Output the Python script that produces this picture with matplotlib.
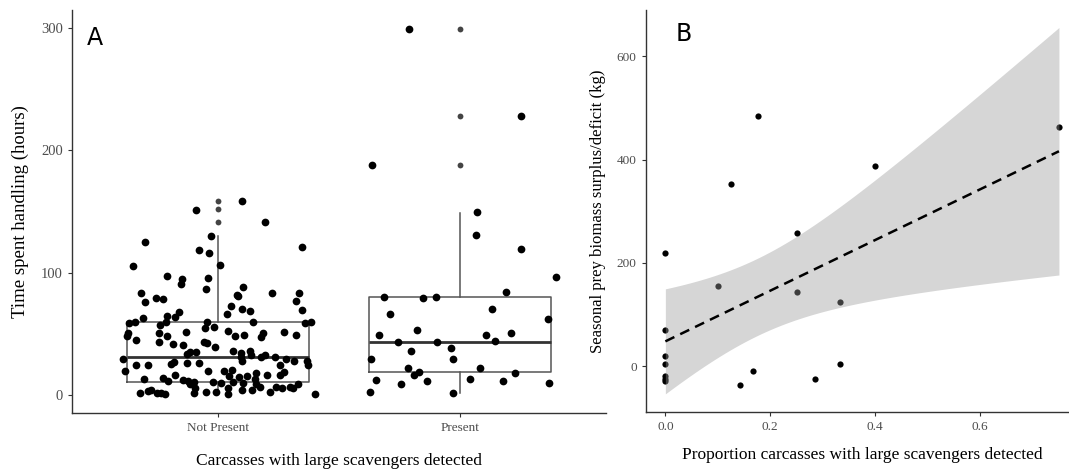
import numpy as np
import matplotlib
matplotlib.use("Agg")
import matplotlib.pyplot as plt

plt.rcParams['font.family'] = ['Liberation Serif', 'DejaVu Serif']

# Panel A: jittered points (offset from category centre, hours)
np_offset = [-0.088, 0.102, 0.196, -0.299, -0.028, -0.075, -0.034, 0.349, -0.350, 0.011,
             -0.207, -0.149, -0.151, -0.038, -0.047, 0.104, 0.078, 0.085, 0.222, 0.337,
             -0.316, -0.255, -0.224, -0.298, 0.056, 0.324, 0.349, 0.102, 0.133, 0.037,
             -0.160, -0.176, -0.209, -0.306, -0.365, -0.342, -0.239, -0.213, -0.045, -0.051,
             -0.014, 0.144, 0.359, 0.384, 0.044, 0.070, 0.107, 0.186, 0.177, 0.272,
             0.322, -0.373, -0.369, -0.240, -0.210, -0.130, -0.337, -0.241, -0.185, -0.144,
             -0.058, -0.042, -0.012, -0.114, -0.089, -0.128, 0.062, 0.095, 0.132, 0.139,
             0.095, 0.100, 0.178, 0.196, 0.236, 0.281, 0.314, 0.370, 0.373, -0.390,
             -0.335, -0.289, -0.193, -0.178, -0.126, -0.078, -0.382, -0.303, -0.224, -0.206,
             -0.176, -0.141, -0.123, -0.112, -0.096, -0.095, -0.041, -0.018, 0.014, 0.027,
             0.059, 0.048, 0.063, 0.089, 0.104, 0.122, 0.158, 0.154, 0.203, 0.256,
             0.272, 0.256, 0.332, 0.310, 0.296, 0.267, 0.242, 0.215, 0.174, 0.156,
             0.143, 0.102, 0.041, 0.044, -0.005, -0.047, -0.096, -0.217, -0.233, -0.248,
             -0.273, -0.287, -0.320, 0.399]
np_hours = [151.6, 158.5, 141.0, 125.3, 130.3, 118.5, 115.7, 121.2, 105.6, 105.9,
            97.1, 94.7, 90.6, 95.8, 86.7, 88.1, 82.0, 80.4, 83.2, 83.2,
            83.2, 79.3, 78.2, 75.5, 72.2, 76.6, 69.2, 70.3, 68.9, 66.2,
            67.3, 64.0, 64.5, 62.6, 58.5, 59.3, 56.9, 59.8, 59.3, 54.4,
            55.5, 59.6, 58.5, 59.3, 51.9, 48.3, 48.9, 50.8, 47.3, 51.6,
            48.7, 48.3, 50.5, 50.8, 48.3, 51.6, 44.5, 42.9, 41.3, 40.7,
            43.1, 42.1, 39.0, 34.9, 35.2, 33.5, 35.8, 34.1, 36.0, 32.7,
            30.6, 27.5, 31.1, 32.2, 31.1, 29.4, 27.3, 27.5, 24.2, 29.2,
            24.0, 24.0, 25.1, 26.5, 25.9, 26.1, 19.3, 12.7, 13.6, 10.8,
            16.3, 11.9, 11.3, 8.4, 10.5, 5.6, 19.3, 10.3, 9.2, 19.6,
            20.1, 15.2, 10.0, 14.6, 9.2, 15.0, 17.4, 12.7, 16.0, 16.3,
            18.2, 24.5, 8.9, 5.6, 6.2, 5.1, 5.9, 1.8, 6.4, 8.4,
            3.7, 3.7, 0.4, 5.6, 2.3, 2.3, 1.2, 0.2, 1.0, 1.2,
            3.7, 3.1, 1.2, 0.2]

pr_offset = [0.069, 0.065, 0.251, 0.392, -0.313, -0.154, -0.102, 0.186, -0.288, 0.129,
             0.362, -0.337, -0.180, 0.104, 0.207, -0.257, -0.096, 0.144, -0.037, -0.203,
             -0.370, -0.029, -0.214, 0.081, -0.172, -0.193, 0.224, -0.346, -0.139, 0.040,
             0.176, 0.366, -0.246, -0.373, -0.029, -0.363, -0.213, 0.250]
pr_hours = [149.2, 130.8, 119.3, 96.0, 79.6, 79.3, 79.9, 83.7, 65.9, 70.0,
            62.3, 48.9, 52.8, 48.9, 50.8, 43.2, 42.9, 44.0, 38.5, 35.5,
            29.4, 29.2, 21.5, 21.5, 18.7, 16.0, 17.9, 11.7, 11.4, 12.7,
            11.1, 9.7, 8.6, 2.3, 1.0, 188.1, 299.0, 227.8]

# Boxplot summaries
categories = ["Not Present", "Present"]
box_q1 = [10.0, 18.2]
box_med = [30.8, 43.4]
box_q3 = [59.3, 79.6]
box_lo = [0.2, 1.0]
box_hi = [130.0, 148.6]
box_out = [[141.0, 152.0, 158.3], [188.0, 227.8, 299.0]]

# Panel B
prop = [0.0, 0.0, 0.0, 0.0, 0.0, 0.0, 0.0, 0.1, 0.125, 0.176,
        0.143, 0.167, 0.25, 0.25, 0.286, 0.333, 0.333, 0.4, 0.75]
biomass = [219.4, 69.9, 19.4, 3.9, -20.0, -25.6, -29.7, 155.3, 353.4, 484.8,
           -36.2, -10.4, 257.6, 144.3, -25.2, 123.6, 3.2, 387.1, 462.8]

fig = plt.figure(figsize=(10.69, 4.72), dpi=100)
axA = fig.add_axes([0.0674, 0.125, 0.4995, 0.854])
axB = fig.add_axes([0.604, 0.127, 0.405, 0.852])

# ---- panel A
for i in range(2):
    pos = i + 1
    st = dict(med=box_med[i], q1=box_q1[i], q3=box_q3[i],
              whislo=box_lo[i], whishi=box_hi[i], fliers=box_out[i])
    axA.bxp([st], positions=[pos], widths=0.75, showcaps=False,
            boxprops=dict(color='#555555', lw=1.1),
            whiskerprops=dict(color='#555555', lw=1.1),
            medianprops=dict(color='#333333', lw=2.0),
            flierprops=dict(marker='o', markersize=4.2, markerfacecolor='#444444',
                            markeredgecolor='none'),
            zorder=1)

axA.scatter(1 + np.array(np_offset), np_hours, s=31, color='black', lw=0, zorder=3)
axA.scatter(2 + np.array(pr_offset), pr_hours, s=31, color='black', lw=0, zorder=3)

axA.set_xlim(0.4, 2.6)
axA.set_ylim(-15, 315)
axA.set_xticks([1, 2])
axA.set_xticklabels(categories)
axA.set_yticks([0, 100, 200, 300])
axA.tick_params(axis='y', labelsize=10.5)
axA.set_ylabel("Time spent handling (hours)", fontsize=13.5, labelpad=9)
axA.set_xlabel("Carcasses with large scavengers detected", fontsize=12.5, labelpad=14)
axA.text(0.043, 0.93, "A", transform=axA.transAxes, fontsize=17, family='DejaVu Sans',
         va='center', ha='center')

# ---- panel B
x = np.array(prop)
y = np.array(biomass)
n = len(x)
slope, icpt = np.polyfit(x, y, 1)
resid = y - (icpt + slope * x)
s_err = np.sqrt(np.sum(resid ** 2) / (n - 2))
xs = np.linspace(x.min(), x.max(), 80)
se = s_err * np.sqrt(1 / n + (xs - x.mean()) ** 2 / np.sum((x - x.mean()) ** 2))
t_crit = 2.110  # t(0.975, df=17)
fit = icpt + slope * xs

axB.scatter(x, y, s=20, color='black', lw=0, zorder=2)
axB.fill_between(xs, fit - t_crit * se, fit + t_crit * se, color='#999999', alpha=0.4,
                 lw=0, zorder=3)
axB.plot(xs, fit, color='black', lw=1.8, linestyle=(0, (4, 2.6)), zorder=4)

axB.set_xlim(-0.0375, 0.7875)
axB.set_ylim(-89, 690)
axB.set_xticks([0.0, 0.2, 0.4, 0.6])
axB.set_xticklabels(["0.0", "0.2", "0.4", "0.6"])
axB.set_yticks([0, 200, 400, 600])
axB.set_ylabel("Seasonal prey biomass surplus/deficit (kg)", fontsize=12, labelpad=8)
axB.set_xlabel("Proportion carcasses with large scavengers detected", fontsize=12.5,
               labelpad=10)
axB.text(0.088, 0.94, "B", transform=axB.transAxes, fontsize=17, family='DejaVu Sans',
         va='center', ha='center')

for ax in (axA, axB):
    for side in ('top', 'right'):
        ax.spines[side].set_visible(False)
    for side in ('left', 'bottom'):
        ax.spines[side].set_color('#333333')
        ax.spines[side].set_linewidth(1.0)
    ax.tick_params(colors='#333333', labelcolor='#4d4d4d', length=3, width=0.8)
axA.tick_params(axis='x', labelsize=9.5)
axB.tick_params(labelsize=9.5)

fig.savefig("out.png", dpi=100)
